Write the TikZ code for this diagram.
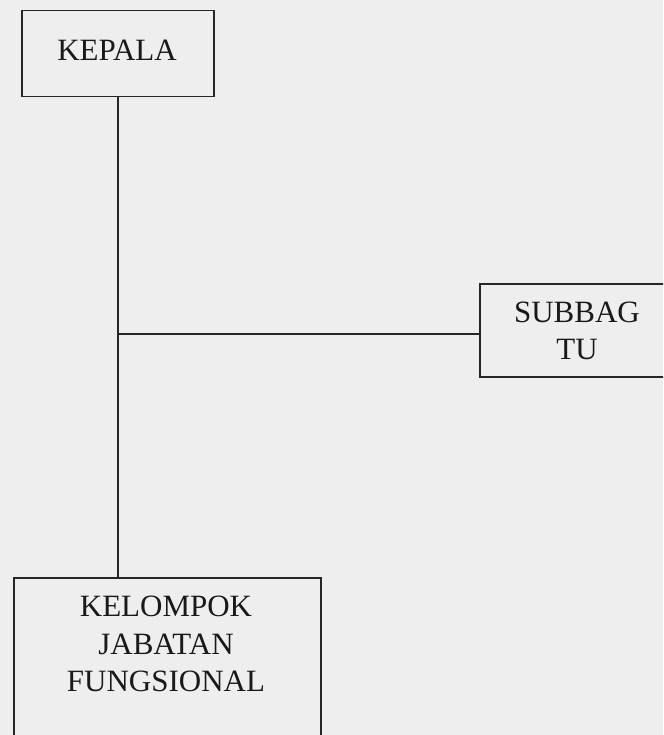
\documentclass[tikz,border=0pt]{standalone}
\usepackage{fontspec}
\setmainfont{Liberation Serif}
\usetikzlibrary{positioning,calc}
\definecolor{paper}{HTML}{EEEEEE}
\tikzset{
  box/.style={draw=black!85, line width=1.5pt, rectangle, inner sep=0pt},
  lbl/.style={align=center, font=\fontsize{31}{37.5}\selectfont, text=black!90},
  wire/.style={draw=black!85, line width=1.6pt}
}

\begin{document}
\begin{tikzpicture}[x=1pt,y=-1pt]
\useasboundingbox (0,0) rectangle (663,735);
\fill[paper] (0,0) rectangle (663,735);
\clip (0,0) rectangle (663,735);

% boxes
\node[box, minimum width=192pt, minimum height=86pt, anchor=north west] (kepala) at (21,10) {};
\node[box, minimum width=260pt, minimum height=93pt, anchor=north west] (subbag) at (479,283) {};
\node[box, minimum width=307pt, minimum height=200pt, anchor=north west] (kjf) at (13,577) {};

% texts
\node[lbl] (kepalatxt) at (117,50) {KEPALA};
\node[lbl] (subbagtxt) at (577,331) {SUBBAG\\TU};
\node[lbl] (kjftxt) at (166,644) {KELOMPOK\\JABATAN\\FUNGSIONAL};

% lines
\coordinate (branch) at (117,334);
\draw[wire] (kepala.south) -- (kepala.south |- kjf.north);
\draw[wire] (branch) -- (branch -| subbag.west);
\end{tikzpicture}
\end{document}
